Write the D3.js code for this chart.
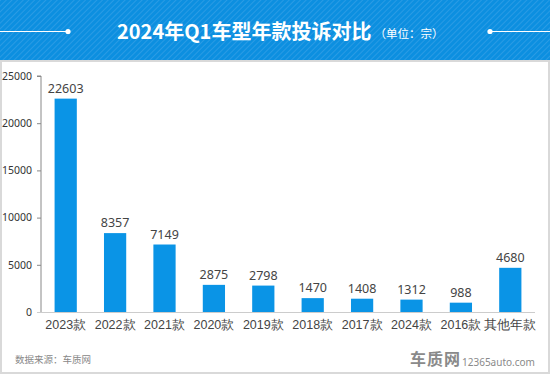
<!DOCTYPE html>
<html>
<head>
<meta charset="utf-8">
<script src="https://cdn.jsdelivr.net/npm/d3@7"></script>
<style>
  body { margin: 0; background: #fff; }
  svg { display: block; font-family: "Noto Sans CJK SC", "Noto Sans", sans-serif; }
</style>
</head>
<body>
<svg id="chart" width="550" height="374"></svg>
<script>
// chart data
const categories = ["2023款", "2022款", "2021款", "2020款", "2019款", "2018款", "2017款", "2024款", "2016款", "其他年款"];
const complaints = [22603, 8357, 7149, 2875, 2798, 1470, 1408, 1312, 988, 4680];
const yTicks = [0, 5000, 10000, 15000, 20000, 25000];

const W = 550, H = 374;
const svg = d3.select("#chart");

// header band with faint diagonal stripes
const defs = svg.append("defs");
const pat = defs.append("pattern")
	.attr("id", "stripes")
	.attr("width", 4).attr("height", 4)
	.attr("patternUnits", "userSpaceOnUse")
	.attr("patternTransform", "rotate(45)");
pat.append("rect").attr("width", 4).attr("height", 4).attr("fill", "#0c8fe0");
pat.append("rect").attr("width", 1).attr("height", 4).attr("fill", "#2a9be4");

svg.append("rect").attr("x", 0).attr("y", 0).attr("width", W).attr("height", 61).attr("fill", "url(#stripes)");

// white panel with light frame
svg.append("rect")
	.attr("x", 1).attr("y", 61).attr("width", W - 2).attr("height", H - 62)
	.attr("fill", "#fff").attr("stroke", "#d9d9d9").attr("stroke-width", 2);

// decorative lines in header
svg.append("line").attr("x1", 0).attr("x2", 68).attr("y1", 31.5).attr("y2", 31.5).attr("stroke", "#fff").attr("stroke-width", 1.2);
svg.append("circle").attr("cx", 68).attr("cy", 31.5).attr("r", 2.6).attr("fill", "#fff");
svg.append("line").attr("x1", 490).attr("x2", W).attr("y1", 31.5).attr("y2", 31.5).attr("stroke", "#fff").attr("stroke-width", 1.2);
svg.append("circle").attr("cx", 490).attr("cy", 31.5).attr("r", 2.6).attr("fill", "#fff");

const title = svg.append("text")
	.attr("x", 117).attr("y", 39)
	.attr("fill", "#fff");
title.append("tspan").attr("font-size", 20).attr("font-weight", "bold").text("2024年Q1车型年款投诉对比");
title.append("tspan").attr("font-size", 11.5).attr("dx", 3).attr("dy", -1).text("（单位：宗）");

// scales
const plotLeft = 41, plotRight = 535, plotTop = 76, plotBottom = 312;

const x = d3.scaleBand()
	.domain(categories)
	.range([plotLeft, plotRight])
	.paddingInner(0.55)
	.paddingOuter(0.275);

const y = d3.scaleLinear()
	.domain([0, 25000])
	.range([plotBottom, plotTop]);

// y axis
const yAxis = svg.append("g")
	.attr("transform", "translate(" + plotLeft + ",0)")
	.call(d3.axisLeft(y).tickValues(yTicks).tickSize(4).tickPadding(5).tickFormat(d3.format("d")));
yAxis.select(".domain").attr("stroke", "#888").attr("d", "M-4," + plotTop + "H0V" + plotBottom);
yAxis.selectAll(".tick line").attr("stroke", "#888");
yAxis.selectAll(".tick text").attr("fill", "#333").attr("font-size", 10.5).attr("font-family", "Noto Sans, sans-serif");

// x axis
const xAxis = svg.append("g")
	.attr("transform", "translate(0," + plotBottom + ")")
	.call(d3.axisBottom(x).tickSize(0).tickPadding(8));
xAxis.select(".domain").attr("stroke", "#ccc").attr("d", "M" + (plotLeft - 4) + ",0.5H" + plotRight);
xAxis.selectAll(".tick text").attr("fill", "#444").attr("font-size", 12.5);

// bars
svg.append("g")
	.selectAll("rect")
	.data(categories)
	.enter()
	.append("rect")
	.attr("x", d => x(d))
	.attr("width", x.bandwidth())
	.attr("y", (d, i) => y(complaints[i]))
	.attr("height", (d, i) => plotBottom - y(complaints[i]))
	.attr("fill", "#0a94e6");

// value labels
svg.append("g")
	.selectAll("text")
	.data(categories)
	.enter()
	.append("text")
	.attr("x", d => x(d) + x.bandwidth() / 2)
	.attr("y", (d, i) => y(complaints[i]) - 6)
	.attr("text-anchor", "middle")
	.attr("fill", "#444")
	.attr("font-size", 12.5)
	.attr("font-family", "Noto Sans, sans-serif")
	.text((d, i) => complaints[i]);

// source + logo
svg.append("text").attr("x", 15).attr("y", 363)
	.attr("fill", "#888").attr("font-size", 9.5).text("数据来源：车质网");
svg.append("text").attr("x", 410).attr("y", 365)
	.attr("fill", "#8a8a8a").attr("font-size", 16).attr("font-weight", "bold").attr("letter-spacing", 1).text("车质网");
svg.append("text").attr("x", 462).attr("y", 366)
	.attr("fill", "#8a8a8a").attr("font-size", 10).attr("font-family", "Noto Sans, sans-serif").text("12365auto.com");
</script>
</body>
</html>
